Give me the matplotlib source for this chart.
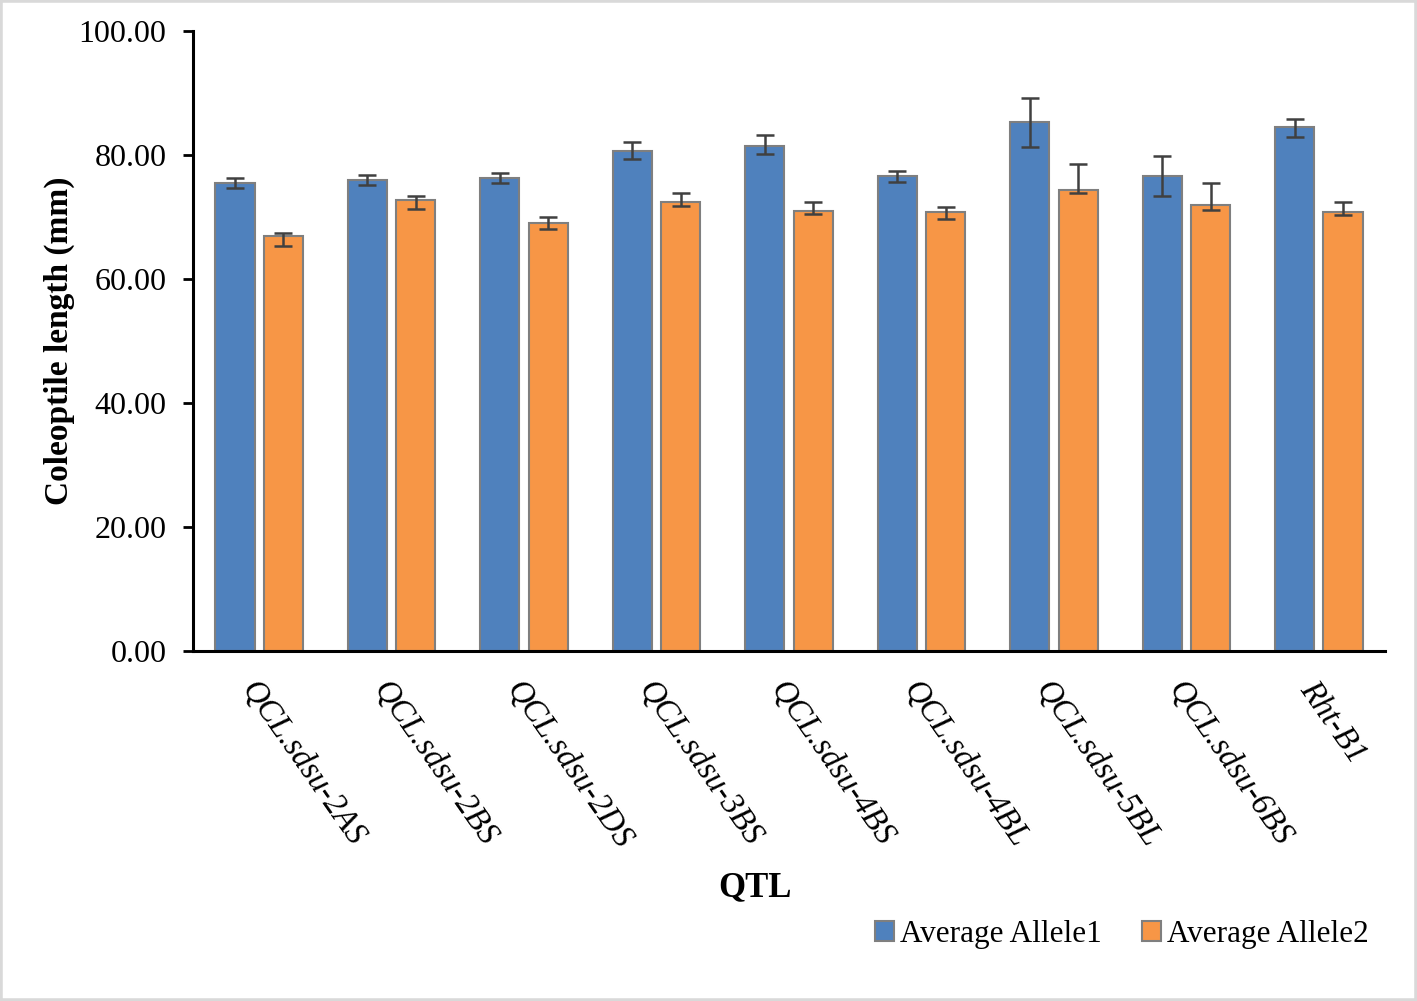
import numpy as np
import matplotlib
matplotlib.use("Agg")
import matplotlib.pyplot as plt
from matplotlib.patches import Rectangle

plt.rcParams['font.family'] = ['Liberation Serif', 'DejaVu Serif']

qtl = ['QCL.sdsu-2AS', 'QCL.sdsu-2BS', 'QCL.sdsu-2DS', 'QCL.sdsu-3BS',
       'QCL.sdsu-4BS', 'QCL.sdsu-4BL', 'QCL.sdsu-5BL', 'QCL.sdsu-6BS', 'Rht-B1']

allele1 = [75.5, 76.0, 76.3, 80.7, 81.5, 76.6, 85.3, 76.6, 84.5]
allele1_lo = [0.85, 0.85, 0.85, 1.4, 1.4, 0.9, 4.1, 3.3, 1.65]
allele1_hi = [0.8, 0.8, 0.85, 1.35, 1.7, 0.8, 3.9, 3.3, 1.35]

allele2 = [67.0, 72.7, 69.1, 72.4, 71.0, 70.8, 74.4, 71.9, 70.8]
allele2_lo = [1.7, 1.4, 1.05, 0.6, 0.55, 1.1, 0.55, 0.8, 0.5]
allele2_hi = [0.45, 0.75, 0.85, 1.4, 1.4, 0.8, 4.1, 3.55, 1.65]

blue = '#4F81BD'
orange = '#F79646'

fig = plt.figure(figsize=(14.17, 10.01), dpi=100)
ax = fig.add_axes([0.1362, 0.3497, 0.8412, 0.6194])

x = np.arange(len(qtl))
w = 0.295
off = 0.183
err_kw = dict(ecolor='#404040', elinewidth=1.8, capsize=6.5, capthick=1.8)

ax.bar(x - off, allele1, w, color=blue, edgecolor='#7F7F7F', linewidth=1.5,
       yerr=[allele1_lo, allele1_hi], error_kw=err_kw, label='Average Allele1')
ax.bar(x + off, allele2, w, color=orange, edgecolor='#7F7F7F', linewidth=1.5,
       yerr=[allele2_lo, allele2_hi], error_kw=err_kw, label='Average Allele2')

ax.set_xlim(-0.5, len(qtl) - 0.5)
ax.set_ylim(0, 100)
ax.set_yticks(np.arange(0, 101, 20))
ax.set_yticklabels(['%.2f' % v for v in np.arange(0, 101, 20)], fontsize=23)

ax.set_xticks(x)
ax.set_xticklabels(qtl, rotation=-55, ha='left', va='top', rotation_mode='anchor',
                   fontsize=23.5, style='italic')
ax.tick_params(axis='x', length=0, pad=18)
ax.tick_params(axis='y', length=7, width=2, direction='out', pad=12)

for s in ['top', 'right']:
    ax.spines[s].set_visible(False)
for s in ['left', 'bottom']:
    ax.spines[s].set_linewidth(2.2)
    ax.spines[s].set_color('black')

ax.set_ylabel('Coleoptile length (mm)', fontsize=24, fontweight='bold', labelpad=3)
fig.text(0.533, 0.113, 'QTL', fontsize=25, fontweight='bold', ha='center', va='center')

fig.legend(loc='center right', bbox_to_anchor=(0.975, 0.066), ncol=2, frameon=False,
           fontsize=22.5, handlelength=0.6, handleheight=0.6, handletextpad=0.2,
           columnspacing=1.3, borderaxespad=0)

fig.patches.append(Rectangle((0, 0), 1, 1, transform=fig.transFigure, fill=False,
                             edgecolor='#d9d9d9', linewidth=4))

plt.savefig('out.png', dpi=100)
plt.close()
